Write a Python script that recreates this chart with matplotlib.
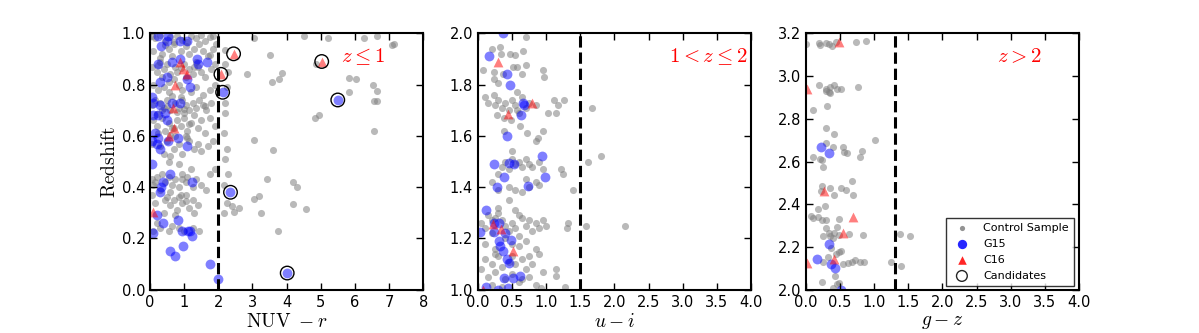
import numpy as np
import matplotlib
matplotlib.use("Agg")
import matplotlib.pyplot as plt

plt.rcParams['mathtext.fontset'] = 'cm'
plt.rcParams['font.family'] = 'DejaVu Sans'

# ---- panel 1 : z <= 1, NUV - r ----
ctrl1_x = [0.05, 0.15, 0.3, 0.45, 0.6, 0.7, 0.8, 0.95, 1.05, 1.2, 1.35, 1.5, 1.6, 1.75, 1.85, 1.95,
           0.1, 0.35, 0.55, 0.65, 0.9, 1.15, 1.3, 1.55, 1.7, 1.85,
           0.05, 0.2, 0.3, 0.4, 0.5, 0.6, 0.75, 0.8, 1.0, 1.15, 1.25, 1.4, 1.5, 1.6, 1.8, 1.9, 0.35, 0.7, 1.05,
           0.1, 0.25, 0.4, 0.55, 0.85, 0.95, 1.2, 1.35, 1.55, 1.75, 1.9,
           0.05, 0.15, 0.3, 0.4, 0.5, 0.6, 0.75, 0.85, 0.95, 1.05, 1.15, 1.25, 1.35, 1.45, 1.55, 1.65, 1.8, 0.35, 0.65, 1.0,
           0.1, 0.2, 0.35, 0.45, 0.55, 0.65, 0.8, 0.9, 1.0, 1.1, 1.2, 1.3, 1.4, 1.5, 1.6, 1.75, 1.9, 0.25, 0.75, 1.05,
           0.05, 0.3, 0.5, 0.7, 0.85, 0.95, 1.15, 1.3, 1.4, 1.5, 1.7, 0.4, 0.6, 1.85,
           0.55, 0.85, 1.2, 1.75, 1.9,
           0.05, 0.1, 0.2, 0.35, 0.45, 0.55, 0.65, 0.75, 0.85, 0.95, 1.05, 1.1, 1.25, 1.35, 1.5, 1.65, 0.3, 0.6, 0.9,
           0.05, 0.15, 0.5, 0.6, 0.7, 0.8, 0.85, 0.95, 1.05, 1.15, 1.25, 1.3, 1.4, 0.4, 0.75,
           0.1, 0.3, 0.55, 0.65, 0.85, 1.0, 1.25, 1.45, 0.2,
           0.45, 0.7, 1.1, 1.45, 0.25, 0.9, 1.3, 0.5, 1.0, 1.6, 0.2, 0.8, 1.15, 0.6, 1.1, 0.15, 0.95, 0.45, 1.05,
           0.7, 0.3, 1.35, 0.9, 0.55,
           2.2, 2.3, 2.25, 2.2, 2.2, 2.16, 2.26, 2.2, 2.3, 2.16, 2.26, 2.16, 2.4, 2.45, 2.6, 3.04, 3.19, 3.24,
           3.04, 2.85, 3.06, 3.53, 3.58, 3.78, 3.88, 3.6, 3.43, 3.76, 4.2, 4.32, 4.2, 4.56, 4.5, 4.86, 4.83,
           4.96, 5.2, 5.84, 6.04, 5.84, 6.28, 6.65, 6.53, 6.65, 6.55, 6.65, 6.55, 7.1, 7.16, 1.77, 2.2]
ctrl1_y = [0.99, 0.98, 0.995, 0.97, 0.985, 0.96, 0.99, 0.975, 0.95, 0.99, 0.98, 0.995, 0.97, 0.985, 0.99, 0.96,
           0.93, 0.92, 0.94, 0.91, 0.93, 0.92, 0.94, 0.93, 0.91, 0.94,
           0.87, 0.85, 0.89, 0.86, 0.88, 0.84, 0.87, 0.85, 0.88, 0.86, 0.84, 0.87, 0.85, 0.83, 0.86, 0.88, 0.83, 0.82, 0.83,
           0.8, 0.78, 0.79, 0.77, 0.8, 0.78, 0.77, 0.79, 0.76, 0.78, 0.8,
           0.72, 0.74, 0.73, 0.71, 0.74, 0.7, 0.73, 0.71, 0.74, 0.72, 0.7, 0.73, 0.71, 0.74, 0.72, 0.7, 0.73, 0.7, 0.755, 0.69,
           0.66, 0.64, 0.67, 0.62, 0.65, 0.63, 0.66, 0.64, 0.67, 0.62, 0.65, 0.68, 0.63, 0.66, 0.61, 0.67, 0.64, 0.61, 0.6, 0.6,
           0.57, 0.56, 0.58, 0.55, 0.57, 0.53, 0.58, 0.55, 0.57, 0.54, 0.56, 0.53, 0.52, 0.58,
           0.5, 0.49, 0.47, 0.45, 0.47,
           0.43, 0.41, 0.44, 0.45, 0.42, 0.44, 0.41, 0.43, 0.4, 0.45, 0.42, 0.44, 0.4, 0.43, 0.41, 0.39, 0.39, 0.38, 0.37,
           0.37, 0.34, 0.36, 0.33, 0.35, 0.31, 0.36, 0.34, 0.37, 0.32, 0.35, 0.3, 0.33, 0.3, 0.29,
           0.23, 0.24, 0.23, 0.25, 0.24, 0.23, 0.24, 0.23, 0.26,
           0.955, 0.965, 0.965, 0.96, 0.875, 0.865, 0.87, 0.715, 0.705, 0.715, 0.685, 0.695, 0.645, 0.605, 0.59,
           0.42, 0.43, 0.35, 0.345, 0.63, 0.905, 0.89, 0.75, 0.81,
           0.88, 0.85, 0.79, 0.73, 0.69, 0.61, 0.55, 0.51, 0.45, 0.41, 0.34, 0.30, 0.325, 0.305, 0.32, 0.355, 0.365, 0.30,
           0.585, 0.84, 0.98, 0.915, 0.81, 0.82, 0.845, 0.545, 0.43, 0.23, 0.42, 0.40, 0.335, 0.315, 0.99, 0.88, 0.67,
           0.68, 0.98, 0.825, 0.82, 0.77, 0.98, 0.99, 0.80, 0.775, 0.735, 0.735, 0.62, 0.955, 0.96, 0.915, 0.935]
g15_1_x = [0.25, 0.54, 0.34, 0.49, 0.88, 1.08, 0.25, 0.64, 0.88, 1.37, 1.67, 1.42, 0.49, 0.29, 1.08, 1.18,
           0.05, 0.10, 0.29, 0.64, 0.88, 0.10, 0.25, 0.44, 0.49, 0.15, 0.25, 0.05, 0.20, 0.29, 0.54, 0.83, 1.08,
           0.05, 0.59, 0.39, 0.34, 0.29, 1.23, 0.20, 0.39, 0.10, 0.83, 0.93, 1.13, 1.18, 1.23, 0.59, 0.74, 0.98,
           1.77, 1.99]
g15_1_y = [0.99, 0.99, 0.95, 0.97, 0.97, 0.97, 0.88, 0.89, 0.90, 0.90, 0.89, 0.88, 0.83, 0.81, 0.82, 0.79,
           0.75, 0.73, 0.72, 0.73, 0.73, 0.68, 0.68, 0.69, 0.66, 0.61, 0.59, 0.58, 0.57, 0.55, 0.58, 0.59, 0.56,
           0.49, 0.45, 0.42, 0.40, 0.38, 0.42, 0.29, 0.26, 0.22, 0.27, 0.23, 0.23, 0.23, 0.21, 0.15, 0.13, 0.17,
           0.10, 0.04]
c16_1_x = [0.88, 0.96, 1.10, 0.74, 0.67, 0.72, 0.56, 0.10]
c16_1_y = [0.89, 0.86, 0.84, 0.80, 0.71, 0.63, 0.60, 0.305]
cand_g15_x = [2.13, 2.36, 4.02, 5.50]
cand_g15_y = [0.77, 0.38, 0.065, 0.74]
cand_c16_x = [2.08, 2.45, 5.03]
cand_c16_y = [0.84, 0.92, 0.89]

# ---- panel 2 : 1 < z <= 2, u - i ----
ctrl2_x = [0.71, 0.21, 0.33, 0.34, 0.47, 0.55, 0.66, 0.08, 0.24, 0.23, 0.37, 0.52, 0.58, 0.65, 0.70, 0.96, 0.97,
           0.30, 0.57, 0.11, 0.23,
           0.15, 0.25, 0.3, 0.35, 0.4, 0.45, 0.5, 0.55, 0.6, 0.65, 0.7, 0.75, 0.28, 0.38, 0.48, 0.58, 0.85,
           0.62, 0.38, 0.72, 0.95, 0.88, 0.85,
           0.2, 0.3, 0.35, 0.4, 0.45, 0.5, 0.55, 0.6, 0.65, 0.7, 0.75, 0.8, 0.9, 0.95, 0.85, 0.9, 0.45, 0.55,
           0.65, 0.75, 0.45, 0.3, 0.5, 0.7,
           0.05, 0.1, 0.15, 0.2, 0.25, 0.3, 0.35, 0.4, 0.45, 0.5, 0.55, 0.6, 0.65, 0.7, 0.75, 0.8, 0.85, 0.9,
           0.95, 1.0, 0.3, 0.55, 0.4, 0.2, 0.6,
           0.1, 0.25, 0.5, 0.6, 0.7, 0.85,
           0.05, 0.1, 0.15, 0.2, 0.25, 0.3, 0.35, 0.4, 0.45, 0.5, 0.55, 0.6, 0.65, 0.7, 0.75, 0.8, 0.85, 0.95,
           0.2, 0.35, 0.5, 0.65, 0.75, 0.9, 0.25,
           1.12, 1.26, 1.18, 1.02, 1.15, 1.67, 1.61, 1.80, 1.21, 1.25, 1.40, 1.58, 2.15, 1.32, 1.31, 1.15,
           1.15, 1.27, 0.92]
ctrl2_y = [1.985, 1.94, 1.945, 1.92, 1.92, 1.915, 1.93, 1.857, 1.85, 1.82, 1.84, 1.87, 1.87, 1.84, 1.875, 1.857,
           1.83, 1.805, 1.77, 1.75, 1.76,
           1.73, 1.72, 1.74, 1.71, 1.73, 1.70, 1.74, 1.72, 1.69, 1.75, 1.71, 1.73, 1.68, 1.67, 1.66, 1.70, 1.72,
           1.64, 1.62, 1.61, 1.62, 1.59, 1.58,
           1.42, 1.39, 1.48, 1.50, 1.47, 1.51, 1.49, 1.50, 1.48, 1.51, 1.49, 1.48, 1.50, 1.47, 1.42, 1.41, 1.40,
           1.39, 1.38, 1.40, 1.35, 1.45, 1.54, 1.43,
           1.26, 1.24, 1.29, 1.22, 1.28, 1.30, 1.27, 1.25, 1.23, 1.26, 1.24, 1.21, 1.28, 1.25, 1.27, 1.23, 1.26,
           1.24, 1.27, 1.25, 1.32, 1.31, 1.20, 1.27, 1.29,
           1.18, 1.16, 1.18, 1.17, 1.19, 1.16,
           1.08, 1.12, 1.05, 1.10, 1.07, 1.13, 1.09, 1.04, 1.11, 1.06, 1.10, 1.03, 1.12, 1.08, 1.05, 1.10, 1.02,
           1.07, 1.02, 1.01, 1.13, 1.04, 1.13, 1.14, 1.14,
           1.74, 1.74, 1.72, 1.69, 1.69, 1.71, 1.50, 1.52, 1.47, 1.45, 1.39, 1.25, 1.25, 1.26, 1.24, 1.08,
           1.055, 1.01, 1.005]
g15_2_x = [0.37, 0.16, 0.42, 0.47, 0.66, 0.68, 0.63, 0.42, 0.94, 0.23, 0.45, 0.53, 0.39, 0.98, 0.28, 0.73,
           0.12, 0.24, 0.31, 0.23, 0.40, 0.49, 0.31, 0.33, 0.37, 0.43, 0.46, 0.03, 0.39, 0.51, 0.61, 0.12, 0.30,
           0.44]
g15_2_y = [2.0, 1.91, 1.84, 1.80, 1.73, 1.72, 1.68, 1.60, 1.52, 1.49, 1.495, 1.49, 1.44, 1.44, 1.40, 1.405,
           1.31, 1.26, 1.26, 1.225, 1.22, 1.195, 1.19, 1.17, 1.15, 1.12, 1.105, 1.225, 1.045, 1.045, 1.055, 1.01,
           1.0, 1.005]
c16_2_x = [0.29, 0.80, 0.44, 0.22, 0.34, 0.51, 0.07]
c16_2_y = [1.89, 1.73, 1.685, 1.255, 1.235, 1.15, 1.0]

# ---- panel 3 : z > 2, g - z ----
ctrl3_x = [0.01, 0.20, 0.21, 0.30, 0.34, 0.39, 0.44, 0.73, 0.88, 0.20, 0.29, 0.36, 0.41, 0.29, 0.34, 0.36,
           0.46, 0.51, 0.77, 0.11, 0.31, 0.29, 0.41, 1.02, 0.40, 0.54, 0.56, 0.60, 0.82, 0.79, 0.10, 0.21,
           0.24, 0.25, 0.30, 0.67, 0.24, 0.35, 0.22, 0.52, 0.59, 0.69, 0.42, 0.28, 0.18, 0.08, 0.11, 0.18,
           0.23, 0.29, 0.48, 0.46, 0.29, 0.34, 0.42, 0.48, 0.63, 0.84, 0.25, 0.35, 0.40, 0.37, 0.44, 0.48,
           0.52, 0.33, 0.25, 0.62, 0.68, 0.72, 0.79, 0.85, 0.54, 1.24, 1.40, 1.38, 1.53, 0.43, 0.23, 0.48,
           0.46, 0.40]
ctrl3_y = [3.15, 3.155, 3.145, 3.155, 3.15, 3.14, 3.16, 3.16, 3.165, 2.96, 2.94, 2.95, 2.96, 2.93, 2.925, 2.92,
           2.94, 2.94, 2.95, 2.84, 2.86, 2.755, 2.73, 2.70, 2.67, 2.67, 2.645, 2.64, 2.65, 2.62, 2.62, 2.61,
           2.605, 2.575, 2.685, 2.51, 2.485, 2.475, 2.46, 2.475, 2.465, 2.445, 2.445, 2.39, 2.38, 2.345, 2.335, 2.34,
           2.325, 2.325, 2.33, 2.295, 2.29, 2.265, 2.265, 2.255, 2.26, 2.255, 2.25, 2.25, 2.24, 2.195, 2.165, 2.175,
           2.18, 2.155, 2.13, 2.125, 2.13, 2.14, 2.13, 2.13, 2.12, 2.13, 2.11, 2.26, 2.25, 2.065, 2.035, 2.03,
           2.025, 2.01]
g15_3_x = [0.22, 0.34, 0.34, 0.16, 0.37, 0.43, 0.51]
g15_3_y = [2.67, 2.64, 2.215, 2.145, 2.12, 2.10, 2.0]
c16_3_x = [0.48, 0.02, 0.26, 0.69, 0.55, 0.42, 0.02]
c16_3_y = [3.16, 2.94, 2.46, 2.34, 2.265, 2.145, 2.125]

cuts = [2.0, 1.5, 1.3]
xlabels = [r'$\mathrm{NUV}\ -r$', r'$u-i$', r'$g-z$']
zlabels = [r'$z\leq1$', r'$1<z\leq2$', r'$z>2$']
xlims = [(0, 8), (0, 4), (0, 4)]
ylims = [(0.0, 1.0), (1.0, 2.0), (2.0, 3.2)]

fig, axes = plt.subplots(1, 3, figsize=(11.99, 3.33), dpi=100)
fig.subplots_adjust(left=0.125, right=0.9, bottom=0.13, top=0.9, wspace=0.2)

data = [(ctrl1_x, ctrl1_y, g15_1_x, g15_1_y, c16_1_x, c16_1_y),
        (ctrl2_x, ctrl2_y, g15_2_x, g15_2_y, c16_2_x, c16_2_y),
        (ctrl3_x, ctrl3_y, g15_3_x, g15_3_y, c16_3_x, c16_3_y)]

for i, ax in enumerate(axes):
    cx, cy, gx, gy, rx, ry = data[i]
    ax.scatter(cx, cy, s=26, c='gray', alpha=0.55, linewidths=0, label='Control Sample')
    ax.scatter(gx, gy, s=50, c='blue', alpha=0.5, linewidths=0, label='G15')
    ax.scatter(rx, ry, s=50, c='red', marker='^', alpha=0.5, linewidths=0, label='C16')
    if i == 0:
        ax.scatter(cand_g15_x, cand_g15_y, s=50, c='blue', alpha=0.5, linewidths=0)
        ax.scatter(cand_c16_x, cand_c16_y, s=50, c='red', marker='^', alpha=0.5, linewidths=0)
        ax.scatter(cand_g15_x + cand_c16_x, cand_g15_y + cand_c16_y, s=95, facecolors='none',
                   edgecolors='black', linewidths=1.0, label='Candidates')
    else:
        ax.scatter([], [], s=95, facecolors='none', edgecolors='black', linewidths=1.0, label='Candidates')
    ax.axvline(cuts[i], color='black', ls='--', lw=2.2)
    ax.set_xlim(*xlims[i])
    ax.set_ylim(*ylims[i])
    ax.text(0.7, 0.91, zlabels[i], color='red', fontsize=15, transform=ax.transAxes, ha='left', va='center')
    ax.set_xlabel(xlabels[i], fontsize=14, labelpad=2)
    ax.tick_params(direction='in', top=True, right=True, labelsize=10.5, length=5, width=1)
    for sp in ax.spines.values():
        sp.set_linewidth(1.5)

axes[0].set_xticks(np.arange(0, 9, 1))
axes[0].set_yticks(np.arange(0, 1.01, 0.2))
axes[1].set_xticks(np.arange(0, 4.01, 0.5))
axes[1].set_yticks(np.arange(1.0, 2.01, 0.2))
axes[2].set_xticks(np.arange(0, 4.01, 0.5))
axes[2].set_yticks(np.arange(2.0, 3.21, 0.2))
for ax in axes:
    ax.yaxis.set_major_formatter(matplotlib.ticker.FormatStrFormatter('%.1f'))
for ax in axes[1:]:
    ax.xaxis.set_major_formatter(matplotlib.ticker.FormatStrFormatter('%.1f'))
axes[0].set_ylabel(r'$\mathrm{Redshift}$', fontsize=14, labelpad=2)

leg = axes[2].legend(loc='lower right', bbox_to_anchor=(0.98, 0.015), scatterpoints=1, fontsize=8,
                     frameon=True, fancybox=False, borderpad=0.45, labelspacing=0.55,
                     handletextpad=0.9, handlelength=2.0, borderaxespad=0)
leg.get_frame().set_edgecolor('black')
leg.get_frame().set_linewidth(1.0)
for h, sz in zip(leg.legend_handles, [14, 45, 38, 60]):
    h.set_sizes([sz])
    h.set_alpha(0.85)

fig.savefig('out.png', dpi=100)
